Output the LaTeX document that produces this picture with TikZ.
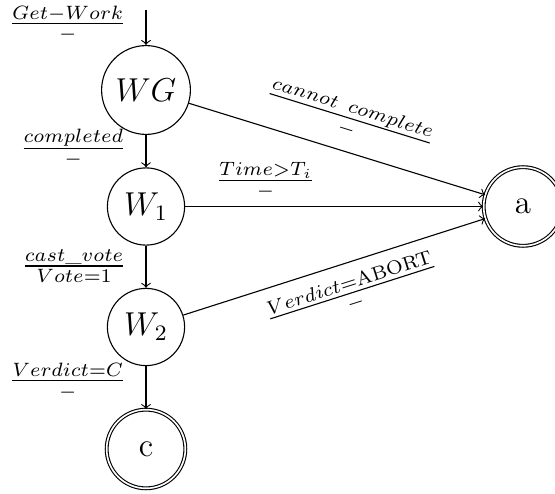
\documentclass[tikz,border=0pt]{standalone}
\usepackage{amstext}
\begin{document}
\begin{tikzpicture}[x=0.3623pt, y=-0.3623pt,
  state/.style={circle, draw, font=\large},
  final/.style={circle, draw, double, double distance=0.6pt, minimum size=28.5pt, inner sep=0pt, font=\large},
  trans/.style={->},
  lbl/.style={inner sep=0pt, anchor=base east},
  slbl/.style={inner sep=0pt, anchor=base, sloped}]
\useasboundingbox (0,0) rectangle (555,494);
% states
\node[state] (WG) at (146,90) {$WG$};
\node[state] (W1) at (146,206.5) {$W_1$};
\node[state] (W2) at (146,327) {$W_2$};
\node[final] (c) at (146,449) {c};
\node[final] (a) at (523,206.5) {a};
\coordinate (start) at (146,10);
% transitions
\draw[trans] (start) -- (WG);
\draw[trans] (WG) -- (W1);
\draw[trans] (W1) -- (W2);
\draw[trans] (W2) -- (c);
\draw[trans] (WG) -- node[slbl, pos=0.51, yshift=9.5pt] {$\frac{cannot\hspace{4pt}complete}{-}$} (a);
\draw[trans] (W1) -- node[slbl, pos=0.27, yshift=7pt] {$\frac{Time>T_i}{-}$} (a);
\draw[trans] (W2) -- node[slbl, pos=0.53, yshift=-13.4pt] {$\frac{Verdict=\mathrm{ABORT}}{-}$} (a);
% labels of the vertical transitions
\node[lbl] (lget) at (127,30.2) {$\frac{Get-Work}{-}$};
\node[lbl] (lcomp) at (127,155.2) {$\frac{completed}{-}$};
\node[lbl] (lcast) at (127,272.9) {$\frac{cast\_vote}{Vote=1}$};
\node[lbl] (lverd) at (127,387.6) {$\frac{Verdict=C}{-}$};
\end{tikzpicture}
\end{document}
